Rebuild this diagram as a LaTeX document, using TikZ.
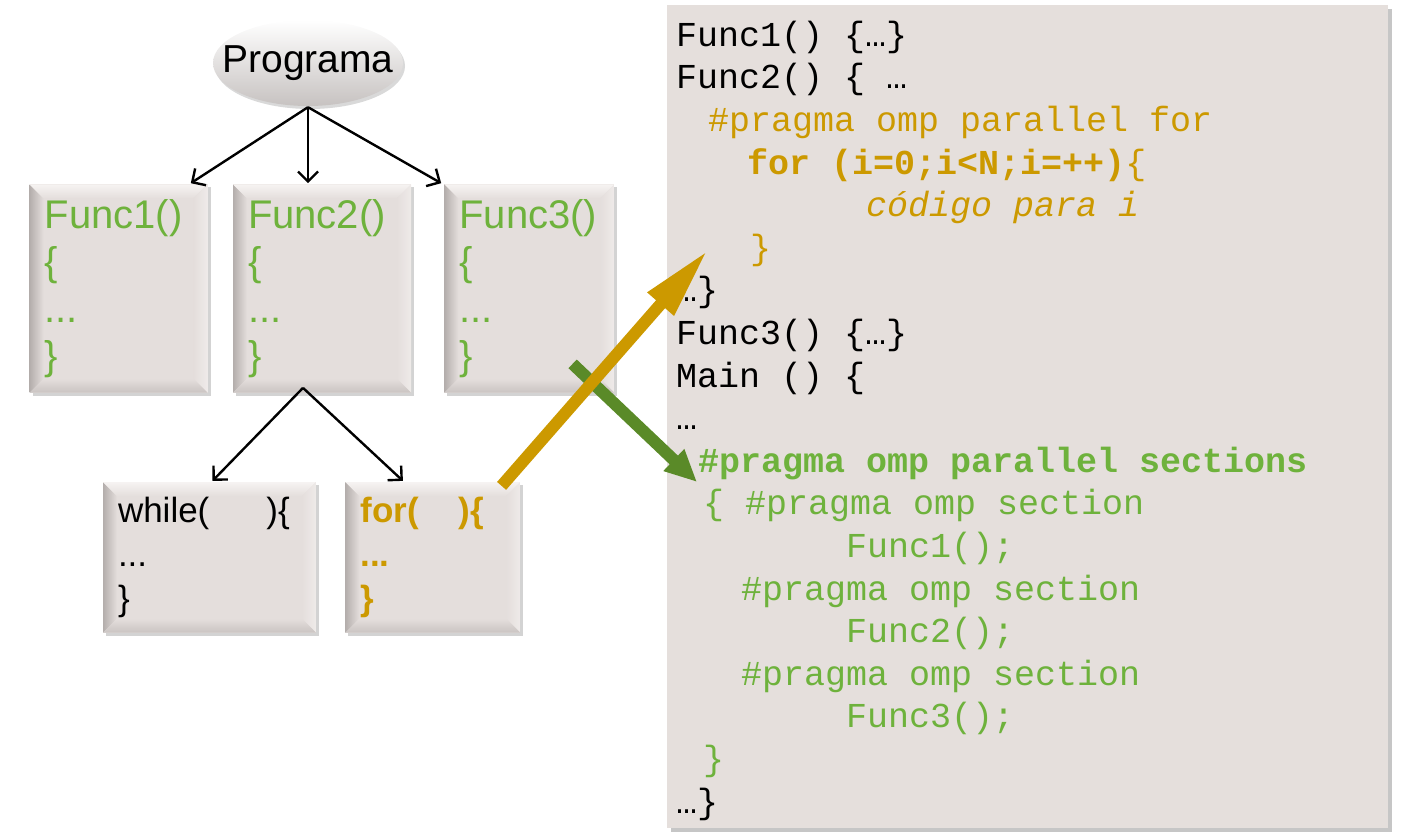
\documentclass[tikz,border=0pt]{standalone}
\usepackage{fontspec}
\setmainfont{Liberation Sans}
\setmonofont{Liberation Mono}
\usetikzlibrary{positioning,shapes.geometric,shadows,arrows.meta}

\definecolor{codegreen}{RGB}{110,178,60}
\definecolor{codegold}{RGB}{204,153,0}
\definecolor{arrowgreen}{RGB}{90,138,40}
\definecolor{panelfill}{RGB}{229,223,220}
\definecolor{boxfill}{RGB}{228,222,220}
\definecolor{bevdark}{RGB}{180,174,172}
\definecolor{bevlight}{RGB}{246,243,242}

\begin{document}
\begin{tikzpicture}[%
    x=0.5pt,
    y=-0.5pt,
    ->,
    >={Straight Barb[length=5pt,width=10pt]},
    line width=1.2pt,
    bevel/.style={%
      rectangle,
      fill=boxfill,
      inner sep=7.5pt,
      align=left,
      drop shadow={opacity=0.35,shadow xshift=1.5pt,shadow yshift=-1.5pt},
      path picture={%
        \coordinate (sw) at (path picture bounding box.south west);
        \coordinate (nw) at (path picture bounding box.north west);
        \coordinate (ne) at (path picture bounding box.north east);
        \coordinate (se) at (path picture bounding box.south east);
        \shade[left color=bevdark,right color=boxfill]
          (sw) -- (nw) -- ([shift={(7pt,-7pt)}]nw) -- ([shift={(7pt,7pt)}]sw) -- cycle;
        \shade[top color=bevlight,bottom color=boxfill]
          (nw) -- (ne) -- ([shift={(-7pt,-7pt)}]ne) -- ([shift={(7pt,-7pt)}]nw) -- cycle;
        \shade[right color=bevlight!60!boxfill,left color=boxfill]
          (ne) -- (se) -- ([shift={(-7pt,7pt)}]se) -- ([shift={(-7pt,-7pt)}]ne) -- cycle;
        \shade[bottom color=bevdark!55!boxfill,top color=boxfill]
          (se) -- (sw) -- ([shift={(7pt,7pt)}]sw) -- ([shift={(-7pt,7pt)}]se) -- cycle;
      }
    },
    funcbox/.style={%
      bevel,
      minimum height=103.5pt,
      text=codegreen,
      font=\fontsize{20}{23.5}\selectfont
    },
    loopbox/.style={%
      bevel,
      minimum height=71.5pt,
      font=\fontsize{17.5}{22}\selectfont
    },
    prog/.style={%
      ellipse,
      minimum width=95pt,
      minimum height=43pt,
      inner xsep=-10pt,
      inner ysep=0pt,
      top color=white,
      middle color=boxfill!60!white,
      bottom color=bevdark!75!white,
      drop shadow={opacity=0.3,shadow xshift=1pt,shadow yshift=-1.5pt},
      font=\fontsize{19.5}{22}\selectfont
    },
    panel/.style={%
      rectangle,
      fill=panelfill,
      minimum width=360.5pt,
      minimum height=411.5pt,
      inner sep=0pt,
      drop shadow={opacity=0.45,shadow xshift=2pt,shadow yshift=-2pt}
    },
    code/.style={%
      inner sep=0pt,
      align=left,
      font=\fontsize{17.5}{21.3}\selectfont\ttfamily
    },
    fat/.style={%
      line width=6pt
    }
  ]
    \useasboundingbox (0,0) rectangle (1419,833);

    % tree of the program
    \node[prog] (prog) at (308,63) {Programa};
    \node[funcbox,minimum width=89pt,text width=74pt] (f2) [below=38pt of prog,xshift=7pt] {Func2()\\\{\\...\\\}};
    \node[funcbox,minimum width=89pt,text width=74pt] (f1) [left=11.5pt of f2] {Func1()\\\{\\...\\\}};
    \node[funcbox,minimum width=85pt,text width=70pt] (f3) [right=15.5pt of f2] {Func3()\\\{\\...\\\}};
    \node[loopbox,minimum width=106.5pt,text width=91.5pt] (wh) [below=43.5pt of f2,xshift=-56.25pt] {while(\hspace{28.5pt})\{\\...\\\}};
    \node[loopbox,minimum width=87.5pt,text width=72.5pt,text=codegold,font=\fontsize{17.5}{22}\selectfont\bfseries] (fr) [right=13.5pt of wh] {for(\hspace{20pt})\{\\...\\\}};

    \draw (prog.south) -- ([xshift=-9pt]f1.north east);
    \draw (prog.south) -- (prog.south |- f2.north);
    \draw (prog.south) -- ([xshift=-1pt]f3.north west);
    \draw ([xshift=-9.5pt,yshift=3pt]f2.south) -- ([xshift=1.5pt]wh.north);
    \draw ([xshift=-9.5pt,yshift=3pt]f2.south) -- ([xshift=-15pt]fr.north);

    % code listing
    \node[panel] (pan) at (1027.5,416.5) {};
    \node[code,anchor=base west] (src) at (675,813) {%
      Func1() \{…\}\\
      Func2() \{ …\\
      \hspace*{16pt}{\color{codegold}\#pragma omp parallel for}\\
      \hspace*{35.5pt}{\color{codegold}\textbf{for (i=0;i<N;i=++)}\{}\\
      \hspace*{95pt}{\color{codegold}\textit{código para i}}\\
      \hspace*{37pt}{\color{codegold}\}}\\
      …\}\\
      Func3() \{…\}\\
      Main () \{\\
      …\\
      \hspace*{11pt}{\color{codegreen}\textbf{\#pragma omp parallel sections}}\\
      \hspace*{13.5pt}{\color{codegreen}\{ \#pragma omp section}\\
      \hspace*{85pt}{\color{codegreen}Func1();}\\
      \hspace*{32.5pt}{\color{codegreen}\#pragma omp section}\\
      \hspace*{85pt}{\color{codegreen}Func2();}\\
      \hspace*{32.5pt}{\color{codegreen}\#pragma omp section}\\
      \hspace*{85pt}{\color{codegreen}Func3();}\\
      \hspace*{13.5pt}{\color{codegreen}\}}\\
      …\}};

    \coordinate (fortip) at (708,250);
    \coordinate (sectip) at (697,482);

    \draw[fat,arrowgreen,-{Triangle[length=16pt,width=14pt]}] ([xshift=-21.5pt,yshift=15pt]f3.south east) -- (sectip);
    \draw[fat,codegold,-{Triangle[length=36pt,width=16pt]}] ([xshift=-10pt,yshift=-2.5pt]fr.north east) -- (fortip);
  \end{tikzpicture}
\end{document}
